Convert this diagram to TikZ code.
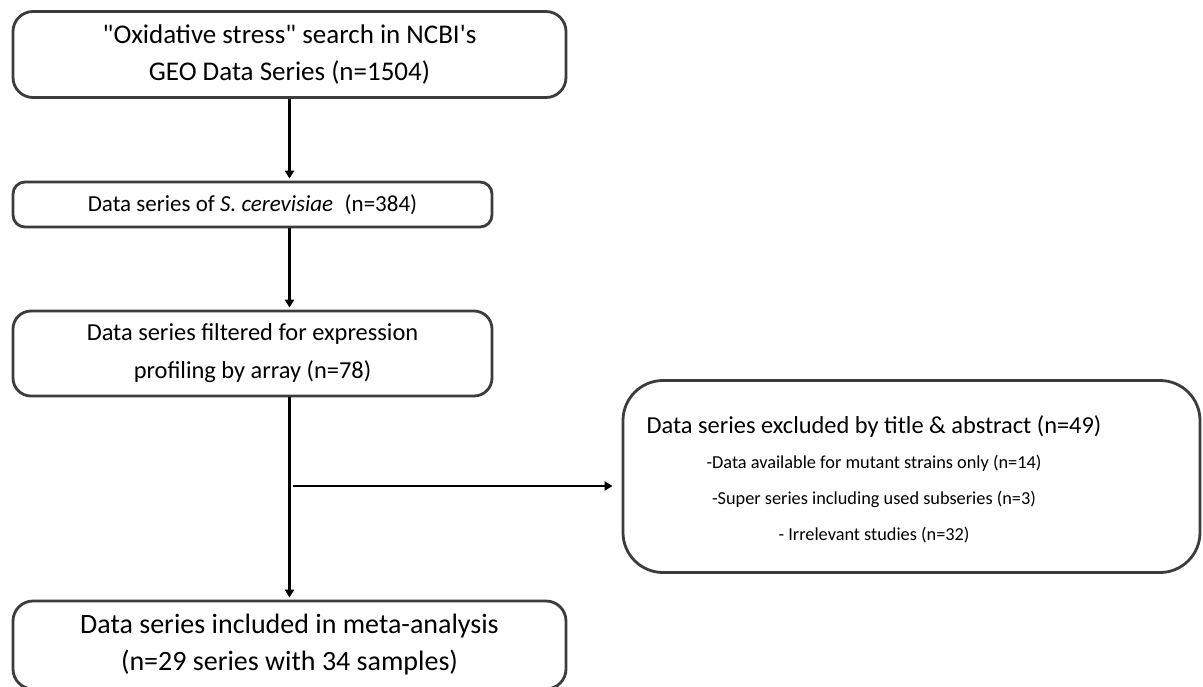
\documentclass[tikz,border=0pt]{standalone}
\usepackage{fontspec}
\setmainfont{Carlito}[Ligatures=TeXOff]
\usetikzlibrary{arrows.meta}
\definecolor{boxline}{HTML}{3C3C3C}
\tikzset{
  flowbox/.style={draw=boxline, line width=2.8pt, fill=white, inner sep=0pt,
    align=center, text=black},
  flowarrow/.style={line width=2.6pt, -{Triangle[width=9pt,length=8pt]}, black},
}
\begin{document}
\begin{tikzpicture}[x=1pt,y=-1pt]
\useasboundingbox (0,0) rectangle (1203,686);
% boxes
\node[flowbox, rounded corners=20pt, minimum width=553pt, minimum height=86pt,
  font=\fontsize{27}{37}\selectfont]
  (b1) at (289.5,54.5) {"Oxidative stress" search in NCBI's\\GEO Data Series (n=1504)};
\node[flowbox, rounded corners=12pt, minimum width=479pt, minimum height=45pt,
  font=\fontsize{23}{30}\selectfont]
  (b2) at (252.5,204.5) {Data series of \textit{S. cerevisiae}\enspace(n=384)};
\node[flowbox, rounded corners=18pt, minimum width=479pt, minimum height=85pt,
  font=\fontsize{24.4}{38}\selectfont]
  (b3) at (252.5,353.5) {Data series filtered for expression\\profiling by array (n=78)};
\node[flowbox, rounded corners=20pt, minimum width=553pt, minimum height=88pt,
  font=\fontsize{28}{37}\selectfont]
  (b4) at (289.5,645) {Data series included in meta-analysis\\(n=29 series with 34 samples)};
\node[flowbox, rounded corners=40pt, minimum width=577pt, minimum height=192pt]
  (ex) at (911.5,476.5) {};
\node[font=\fontsize{24.4}{37}\selectfont, inner sep=0pt, anchor=base]
  (exT) at (874,433) {Data series excluded by title \& abstract (n=49)};
\node[font=\fontsize{18.3}{36}\selectfont, inner sep=0pt, align=center, anchor=base]
  (exL) at (874,540) {-Data available for mutant strains only (n=14)\\-Super series including used subseries (n=3)\\- Irrelevant studies (n=32)};
% connectors
\coordinate (j) at (289,486);
\draw[flowarrow, shorten >=2pt] (b1.south) -- (b1.south |- b2.north);
\draw[flowarrow, shorten >=2pt] (b1.south |- b2.south) -- (b1.south |- b3.north);
\draw[flowarrow, shorten >=2pt] (b1.south |- b3.south) -- (b4.north);
\draw[flowarrow, shorten >=9pt] ([xshift=4pt]j) -- (ex.west |- j);
\end{tikzpicture}
\end{document}
